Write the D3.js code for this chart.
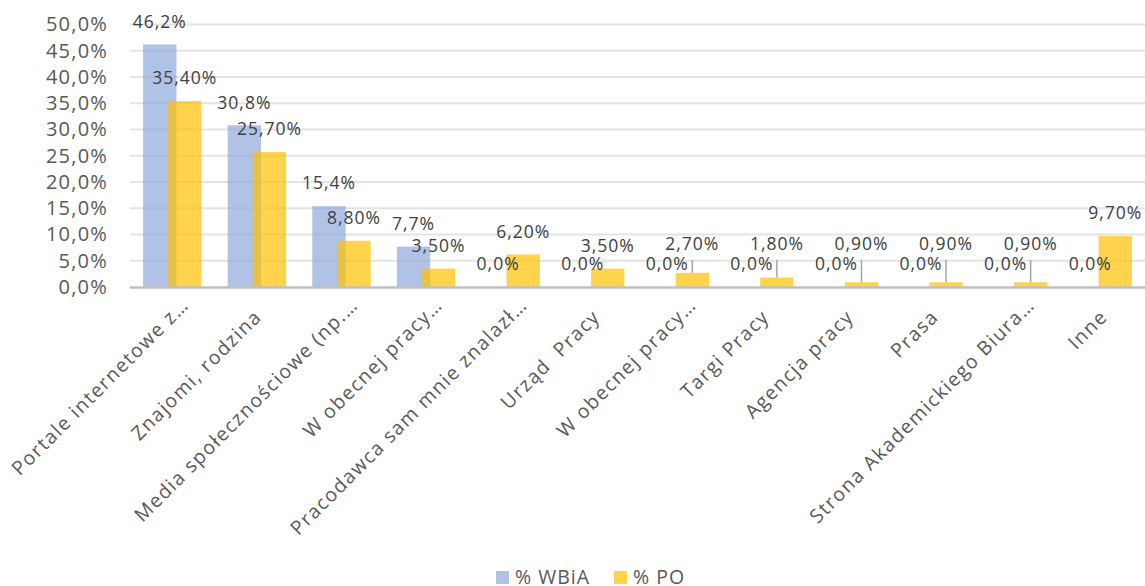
<!DOCTYPE html>
<html><head><meta charset="utf-8">
<script src="https://cdn.jsdelivr.net/npm/d3@7/dist/d3.min.js"></script>
<style>
body{margin:0;background:#fff;}
svg{display:block;font-family:"Open Sans",sans-serif;}
text{white-space:pre;}
</style>
</head><body>
<svg id="chart" width="1145" height="586"></svg>
<script>
const categories = ["Portale internetowe z…", "Znajomi, rodzina", "Media społecznościowe (np.…", "W obecnej pracy…", "Pracodawca sam mnie znalazł…", "Urząd  Pracy", "W obecnej pracy…", "Targi Pracy", "Agencja pracy", "Prasa", "Strona Akademickiego Biura…", "Inne"];
const seriesNames = ["% WBiA", "% PO"];
const wbia = [46.2, 30.8, 15.4, 7.7, 0, 0, 0, 0, 0, 0, 0, 0];
const po = [35.4, 25.7, 8.8, 3.5, 6.2, 3.5, 2.7, 1.8, 0.9, 0.9, 0.9, 9.7];
const yTicks = [0, 5, 10, 15, 20, 25, 30, 35, 40, 45, 50];

(function () {
const svg = d3.select("#chart");
const left = 130, right = 1145, plotTop = 24.5, base = 287;

const x = d3.scaleBand().domain(d3.range(categories.length)).range([left, right]).padding(0);
const y = d3.scaleLinear().domain([0, 50]).range([base, plotTop]);
const bw = x.bandwidth();
const barW = bw * 0.394;
const shift = bw * 0.296;
const blueCol = "#8FAADC", yelCol = "#FFC000", op = 0.7;

const fmt1 = v => d3.format(".1f")(v).replace(".", ",") + "%";
const fmt2 = v => d3.format(".2f")(v).replace(".", ",") + "%";

// gridlines
svg.append("g").selectAll("line").data(yTicks.filter(t => t > 0)).join("line")
  .attr("x1", left).attr("x2", right)
  .attr("y1", d => y(d)).attr("y2", d => y(d))
  .attr("stroke", "#e4e4e4").attr("stroke-width", 2);

// y axis labels
const yAxis = d3.axisLeft(y).tickValues(yTicks).tickSize(0).tickPadding(22)
  .tickFormat(d => d3.format(".1f")(d).replace(".", ",") + "%");
const ya = svg.append("g").attr("transform", `translate(${left},0)`).call(yAxis);
ya.select(".domain").remove();
ya.selectAll("text").attr("font-family", "Open Sans").attr("font-size", 20)
  .attr("letter-spacing", 1.2).attr("fill", "#595959");

const cx = i => x(i) + bw / 2;
const blueX = i => cx(i) - shift / 2;
const yelX = i => cx(i) + shift / 2;

// bars
svg.append("g").selectAll("rect").data(wbia).join("rect")
  .attr("x", (d, i) => blueX(i) - barW / 2).attr("width", barW)
  .attr("y", d => y(d)).attr("height", d => y(0) - y(d))
  .attr("fill", blueCol).attr("fill-opacity", op);
svg.append("g").selectAll("rect").data(po).join("rect")
  .attr("x", (d, i) => yelX(i) - barW / 2).attr("width", barW)
  .attr("y", d => y(d)).attr("height", d => y(0) - y(d))
  .attr("fill", yelCol).attr("fill-opacity", op);

// axis line
svg.append("line").attr("x1", left).attr("x2", right).attr("y1", base + 0.5).attr("y2", base + 0.5)
  .attr("stroke", "#bfbfbf").attr("stroke-width", 2.5);

// data labels
const lblSize = 17.5;
const centerToBase = lblSize * 0.357;
const gap = 23;
svg.append("g").selectAll("text").data(wbia).join("text")
  .attr("x", (d, i) => blueX(i)).attr("y", d => y(d) - gap + centerToBase)
  .attr("text-anchor", "middle").attr("font-size", lblSize).attr("letter-spacing", 1)
  .attr("fill", "#404040").text(d => fmt1(d));

const yelCenter = d => d < 3 ? Math.min(y(d) - gap, y(0) - 43) : y(d) - gap;
const lead = svg.append("g");
po.forEach((d, i) => {
  if (d < 3) {
    lead.append("line").attr("x1", yelX(i)).attr("x2", yelX(i))
      .attr("y1", yelCenter(d) + 16).attr("y2", y(d))
      .attr("stroke", "#a6a6a6").attr("stroke-width", 1.5);
  }
});
svg.append("g").selectAll("text").data(po).join("text")
  .attr("x", (d, i) => yelX(i)).attr("y", d => yelCenter(d) + centerToBase)
  .attr("text-anchor", "middle").attr("font-size", lblSize).attr("letter-spacing", 1)
  .attr("fill", "#404040").text(d => fmt2(d));

// category labels
const cg = svg.append("g");
categories.forEach((c, i) => {
  const g = cg.append("g").attr("transform", `translate(${cx(i) + 6},${base + 31}) rotate(-45)`);
  const ell = c.endsWith("…");
  const main = ell ? c.slice(0, -1) : c;
  g.append("text").attr("text-anchor", "end").attr("font-size", 19.5).attr("letter-spacing", 1.4)
    .attr("fill", "#595959").text(main);
  if (ell) {
    g.append("text").attr("text-anchor", "start").attr("font-size", 19.5)
      .attr("fill", "#595959").text("…");
  }
});

// legend
const legend = svg.append("g");
const legX = [496, 614];
const legCols = [blueCol, yelCol];
seriesNames.forEach((s, i) => {
  legend.append("rect").attr("x", legX[i]).attr("y", 571).attr("width", 13).attr("height", 13)
    .attr("fill", legCols[i]).attr("fill-opacity", op);
  legend.append("text").attr("x", legX[i] + 19).attr("y", 584).attr("font-size", 19.5)
    .attr("letter-spacing", 1).attr("fill", "#595959").text(s);
});
})();
</script>
</body></html>
